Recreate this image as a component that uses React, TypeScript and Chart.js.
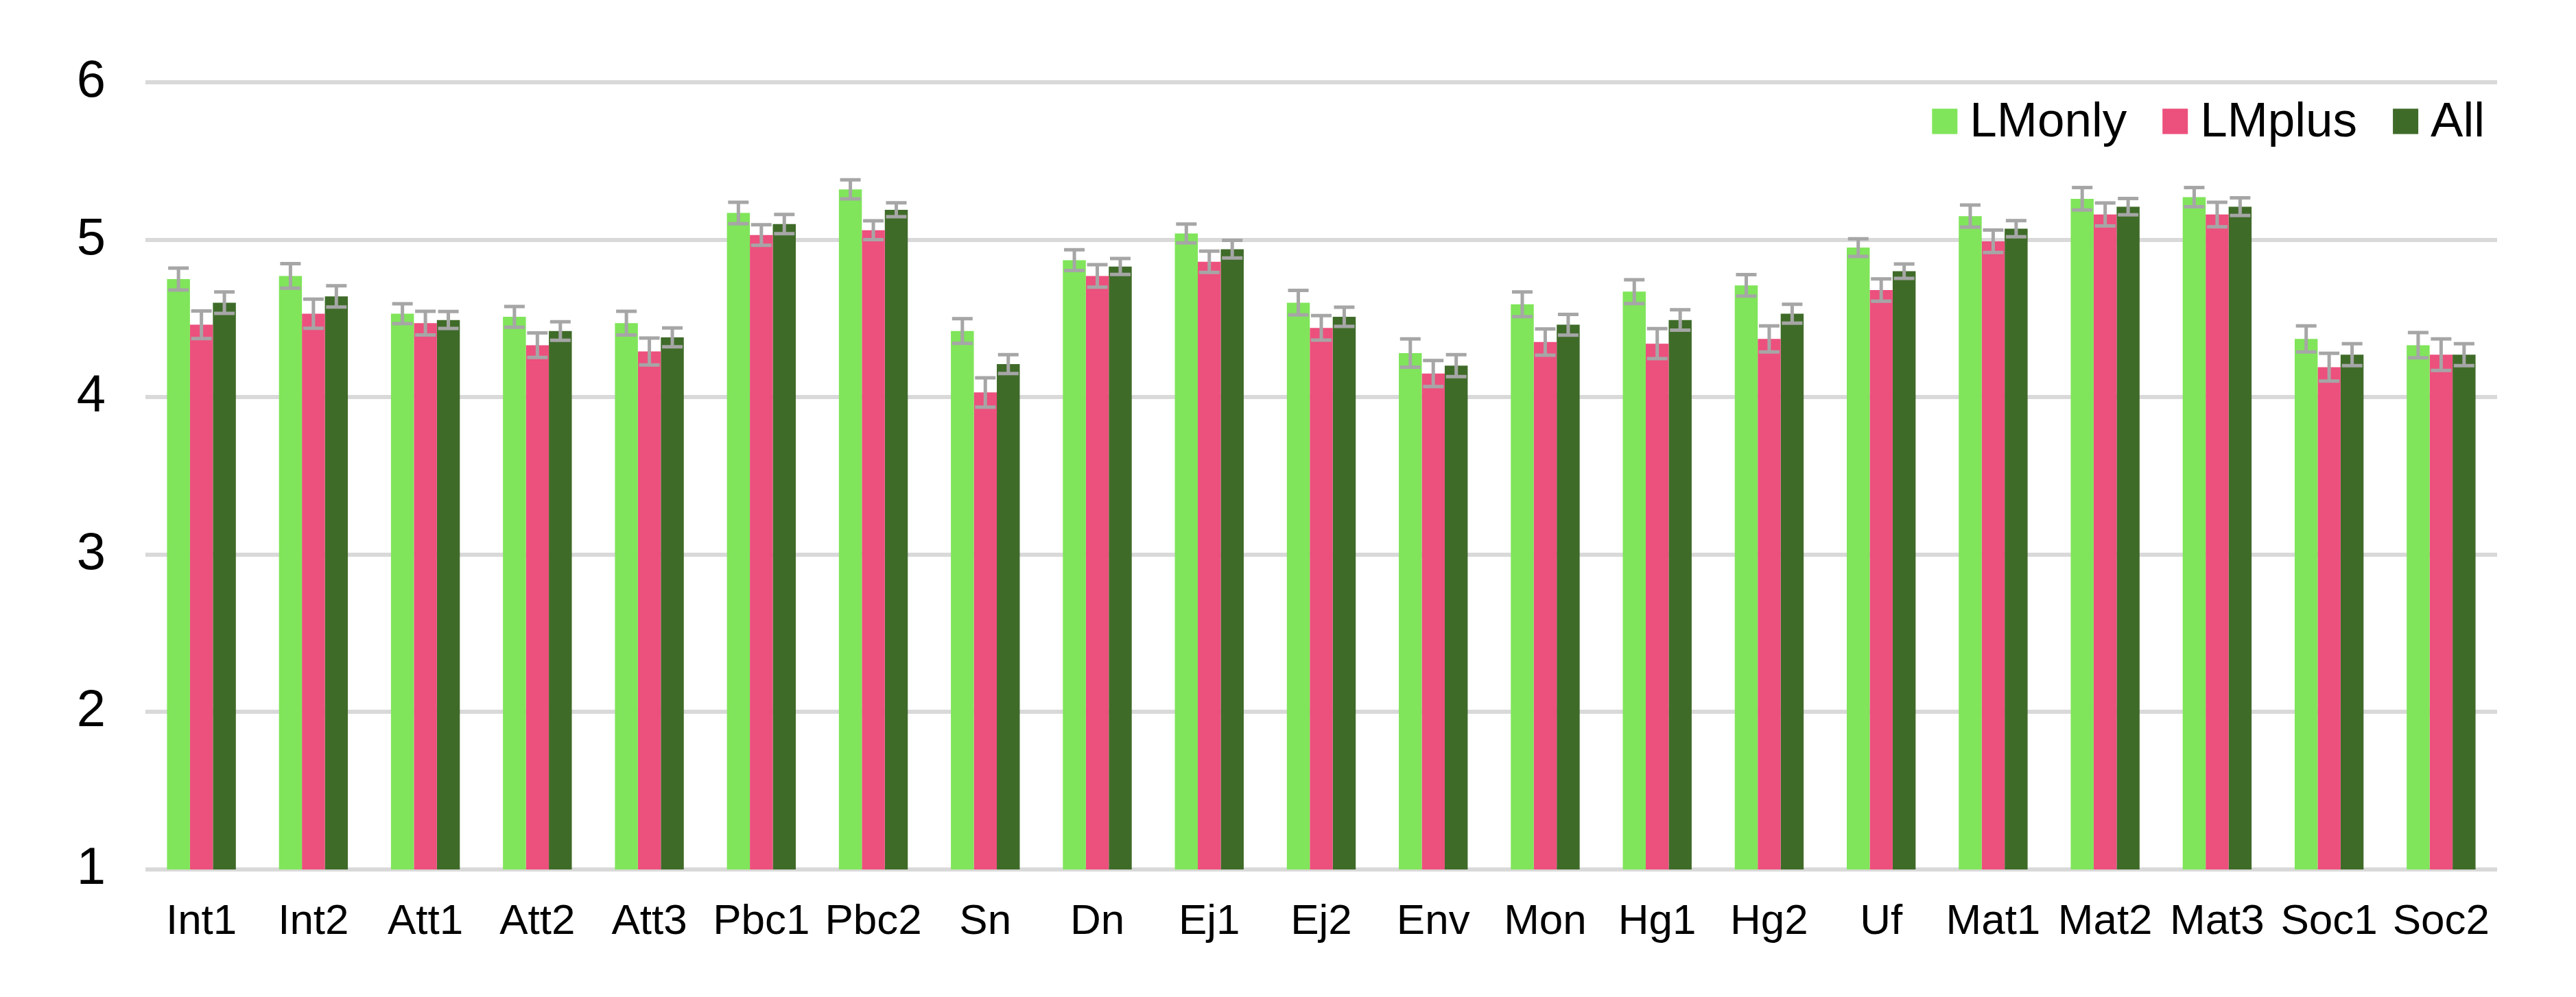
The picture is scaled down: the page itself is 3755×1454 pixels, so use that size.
import React, { useEffect, useRef } from "react";
import { Chart, registerables } from "chart.js";

Chart.register(...registerables);

const categories = ["Int1","Int2","Att1","Att2","Att3","Pbc1","Pbc2","Sn","Dn","Ej1","Ej2","Env","Mon","Hg1","Hg2","Uf","Mat1","Mat2","Mat3","Soc1","Soc2"];
const seriesNames = ["LMonly", "LMplus", "All"];
const lmOnly = [4.75,4.77,4.53,4.51,4.47,5.17,5.32,4.42,4.87,5.04,4.60,4.28,4.59,4.67,4.71,4.95,5.15,5.26,5.27,4.37,4.33];
const lmPlus = [4.46,4.53,4.47,4.33,4.29,5.03,5.06,4.03,4.77,4.86,4.44,4.15,4.35,4.34,4.37,4.68,4.99,5.16,5.16,4.19,4.27];
const allVals = [4.60,4.64,4.49,4.42,4.38,5.10,5.19,4.21,4.83,4.94,4.51,4.20,4.46,4.49,4.53,4.80,5.07,5.21,5.21,4.27,4.27];
const lmOnlyErr = [0.070,0.078,0.063,0.066,0.075,0.068,0.060,0.078,0.066,0.060,0.078,0.090,0.078,0.076,0.068,0.056,0.070,0.071,0.061,0.083,0.080];
const lmPlusErr = [0.088,0.093,0.075,0.078,0.085,0.065,0.060,0.093,0.071,0.068,0.078,0.083,0.083,0.095,0.083,0.071,0.071,0.073,0.078,0.088,0.100];
const allErr = [0.068,0.068,0.054,0.059,0.060,0.061,0.044,0.060,0.051,0.056,0.061,0.070,0.066,0.065,0.060,0.046,0.051,0.052,0.056,0.070,0.070];
const yTicks = [1, 2, 3, 4, 5, 6];
const colors = ["#80E55A", "#EC507D", "#3F6B29"];

const FONT = "'Liberation Sans', Arial, sans-serif";

const errorBarPlugin = {
  id: "errorBars",
  afterDatasetsDraw(chart: any) {
    const ctx = chart.ctx;
    const yScale = chart.scales.y;
    ctx.save();
    ctx.strokeStyle = "#A6A6A6";
    ctx.lineWidth = 5;
    chart.data.datasets.forEach((ds: any, di: number) => {
      const meta = chart.getDatasetMeta(di);
      meta.data.forEach((bar: any, i: number) => {
        const v = ds.data[i];
        const e = ds.errors[i];
        const x = bar.x;
        const yT = yScale.getPixelForValue(v + e);
        const yB = yScale.getPixelForValue(v - e);
        const half = 15;
        ctx.beginPath();
        ctx.moveTo(x, yT);
        ctx.lineTo(x, yB);
        ctx.moveTo(x - half, yT);
        ctx.lineTo(x + half, yT);
        ctx.moveTo(x - half, yB);
        ctx.lineTo(x + half, yB);
        ctx.stroke();
      });
    });
    ctx.restore();
  },
};

const legendPlugin = {
  id: "insideLegend",
  afterDraw(chart: any) {
    const ctx = chart.ctx;
    ctx.save();
    ctx.font = `71px ${FONT}`;
    ctx.textBaseline = "middle";
    ctx.textAlign = "left";
    const box = 37;
    const gapBoxText = 18;
    const gapItems = 52;
    const yc = 177;
    const items = chart.data.datasets.map((d: any) => ({ label: d.label, color: d.backgroundColor }));
    const widths = items.map((it: any) => box + gapBoxText + ctx.measureText(it.label).width);
    const total = widths.reduce((a: number, b: number) => a + b, 0) + gapItems * (items.length - 1);
    let x = 3622 - total;
    items.forEach((it: any, i: number) => {
      ctx.fillStyle = it.color;
      ctx.fillRect(x, yc - box / 2, box, box);
      ctx.fillStyle = "#000000";
      ctx.fillText(it.label, x + box + gapBoxText, yc + 2);
      x += widths[i] + gapItems;
    });
    ctx.restore();
  },
};

export default function App() {
  const ref = useRef<HTMLCanvasElement | null>(null);
  useEffect(() => {
    document.body.style.margin = "0";
    const canvas = ref.current!;
    const chart = new Chart(canvas, {
      type: "bar",
      data: {
        labels: categories,
        datasets: [
          { label: seriesNames[0], data: lmOnly, errors: lmOnlyErr, backgroundColor: colors[0] } as any,
          { label: seriesNames[1], data: lmPlus, errors: lmPlusErr, backgroundColor: colors[1] } as any,
          { label: seriesNames[2], data: allVals, errors: allErr, backgroundColor: colors[2] } as any,
        ],
      },
      options: {
        responsive: false,
        animation: false,
        devicePixelRatio: 1,
        layout: { padding: { left: 0, top: 120, right: 115, bottom: 0 } },
        datasets: { bar: { categoryPercentage: 0.615, barPercentage: 1.0 } },
        plugins: {
          legend: { display: false },
          tooltip: { enabled: false },
        },
        scales: {
          x: {
            grid: { display: false, drawTicks: false },
            border: { display: false },
            ticks: {
              color: "#000000",
              font: { size: 62, family: FONT },
              padding: 40,
              maxRotation: 0,
              autoSkip: false,
            },
            afterFit: (scale: any) => { scale.height = 186; },
          },
          y: {
            min: 1,
            max: 6,
            afterBuildTicks: (scale: any) => { scale.ticks = yTicks.map((v) => ({ value: v })); },
            grid: { color: "#D9D9D9", lineWidth: 6, drawTicks: false },
            border: { display: false },
            ticks: {
              color: "#000000",
              font: { size: 76, family: FONT },
              padding: 58,
            },
            afterFit: (scale: any) => { scale.width = 212; },
          },
        },
      } as any,
      plugins: [errorBarPlugin, legendPlugin],
    });
    return () => chart.destroy();
  }, []);
  return (
    <div style={{ width: 3755, height: 1454, background: "#ffffff" }}>
      <canvas ref={ref} width={3755} height={1454} style={{ display: "block", width: 3755, height: 1454 }} />
    </div>
  );
}
